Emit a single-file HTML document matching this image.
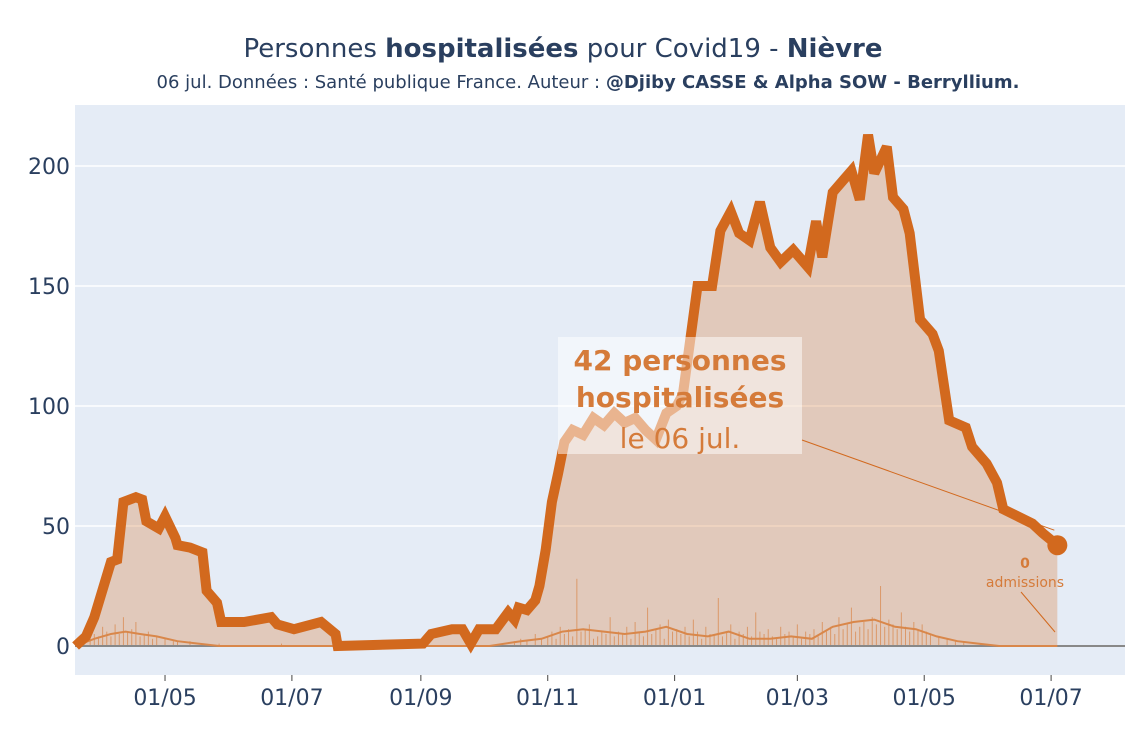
<!DOCTYPE html>
<html><head><meta charset="utf-8"><style>
body{margin:0;background:#fff;font-family:"Liberation Sans",sans-serif}
svg text{font-family:"DejaVu Sans","Liberation Sans",sans-serif}
</style></head><body>
<svg id="c" width="1125" height="750" xmlns="http://www.w3.org/2000/svg">
<text x="563" y="57" text-anchor="middle" font-size="26" fill="#2a3f5f">Personnes <tspan font-weight="bold">hospitalisées</tspan> pour Covid19 - <tspan font-weight="bold">Nièvre</tspan></text>
<text x="588" y="88" text-anchor="middle" font-size="18" fill="#2a3f5f">06 jul. Données : Santé publique France. Auteur : <tspan font-weight="bold">@Djiby CASSE &amp; Alpha SOW - Berryllium.</tspan></text>
<rect x="75" y="105" width="1050" height="570" fill="#e5ecf6"/>
<g id="grid"></g><g id="marks"></g><g id="axes"></g>
</svg>
<script>
const startDate="2020-03-18";
const hospDays=[1,6,10,18,21,24,30,33,35,41,44,49,50,56,62,64,69,71,82,95,98,106,119,126,127,168,172,182,187,191,195,203,209,212,214,218,222,224,227,230,233,236,240,245,250,255,260,265,270,275,280,285,290,293,300,307,311,316,320,325,330,335,340,346,353,357,360,365,370,374,378,382,385,391,394,399,402,407,413,416,421,429,432,439,444,447,454,461,466,473];
const hospVals=[0,4,12,35,36,60,62,61,52,49,54,45,42,41,39,23,18,10,10,12,9,7,10,5,0,1,5,7,7,1,7,7,14,11,16,15,19,25,40,60,72,85,90,88,95,92,97,93,95,90,86,97,100,105,150,150,173,181,172,169,185,166,160,165,158,177,162,189,194,198,186,213,197,208,187,182,172,136,130,123,94,91,83,76,68,57,54,51,47,42];
const admDays=[1,10,18,25,32,40,50,60,70,200,215,225,235,245,255,265,275,285,295,305,315,325,335,345,355,365,375,385,395,405,415,425,435,445,473];
const admVals=[0,3,5,6,5,4,2,1,0,0,2,3,6,7,6,5,6,8,5,4,6,3,3,4,3,8,10,11,8,7,4,2,1,0,0];
const barDays=[8,10,12,14,16,18,20,22,24,26,28,30,32,34,36,38,40,44,48,50,56,62,70,100,130,212,215,218,222,225,228,230,232,234,236,238,240,242,244,246,248,250,252,254,256,258,260,262,264,266,268,270,272,274,276,278,280,282,284,286,288,290,292,294,296,298,300,302,304,306,308,310,312,314,316,318,320,322,324,326,328,330,332,334,336,338,340,342,344,346,348,350,352,354,356,358,360,362,364,366,368,370,372,374,376,378,380,382,384,386,388,390,392,394,396,398,400,402,404,406,408,410,412,416,420,424,428,436];
const barVals=[3,5,4,8,6,4,9,5,12,6,7,10,4,5,6,3,4,3,2,2,2,1,1,1,1,2,3,2,5,3,4,6,3,8,5,7,4,28,6,7,9,3,4,6,5,12,4,6,5,8,3,10,6,4,16,5,7,9,3,11,6,7,5,8,4,11,6,3,8,5,5,20,4,6,9,3,6,5,8,4,14,6,5,7,4,3,8,5,6,4,9,3,6,5,7,4,10,6,8,5,12,7,9,16,6,8,10,7,12,9,25,8,11,9,7,14,8,6,10,7,9,6,5,4,3,2,2,1];
const yTicks=[0,50,100,150,200];
const xTickDates=["2020-05-01","2020-07-01","2020-09-01","2020-11-01","2021-01-01","2021-03-01","2021-05-01","2021-07-01"];
const xTickLabels=["01/05","01/07","01/09","01/11","01/01","01/03","01/05","01/07"];
const NS="http://www.w3.org/2000/svg";
const t0=Date.parse(startDate);
const dayOf=s=>(Date.parse(s)-t0)/864e5;
const X=d=>73.5+d*2.08, Y=v=>646-v*2.4;
function mk(tag,attrs,parent){const e=document.createElementNS(NS,tag);for(const k in attrs)e.setAttribute(k,attrs[k]);parent.appendChild(e);return e;}
const grid=document.getElementById('grid'),marks=document.getElementById('marks'),axes=document.getElementById('axes');
yTicks.forEach(v=>{
 if(v>0){const g=mk('line',{x1:75,x2:1125,y1:Y(v),y2:Y(v),stroke:'#fff','stroke-width':1.5},grid);
 
 }
 const t=mk('text',{x:70,y:Y(v)+8,'text-anchor':'end','font-size':22,fill:'#2a3f5f'},axes);t.textContent=v;
 
 
});
xTickDates.forEach((s,i)=>{
 const x=X(dayOf(s));
 const tk=mk('line',{x1:x,x2:x,y1:675,y2:681,stroke:'#444','stroke-width':1},axes);
 
 
 const t=mk('text',{x:x,y:705,'text-anchor':'middle','font-size':22,fill:'#2a3f5f'},axes);t.textContent=xTickLabels[i];
 
 
});
let pts=hospDays.map((d,i)=>X(d)+','+Y(hospVals[i]));
const area=mk('polygon',{points:X(hospDays[0])+','+Y(0)+' '+pts.join(' ')+' '+X(hospDays[hospDays.length-1])+','+Y(0),fill:'rgba(215,120,50,0.3)'},marks);


barDays.forEach((d,i)=>{
 const b=mk('line',{x1:X(d),x2:X(d),y1:Y(0),y2:Y(barVals[i]),stroke:'rgba(215,120,50,0.6)','stroke-width':1},marks);
 
 
});
const zl=mk('line',{x1:75,x2:1125,y1:Y(0),y2:Y(0),stroke:'#888','stroke-width':2},marks);


const al=mk('polyline',{points:admDays.map((d,i)=>X(d)+','+Y(admVals[i])).join(' '),fill:'none',stroke:'#d9874a','stroke-width':2},marks);


const hl=mk('polyline',{points:pts.join(' '),fill:'none',stroke:'#d2691e','stroke-width':10,'stroke-linejoin':'miter','stroke-miterlimit':3},marks);


const ld=hospDays[hospDays.length-1],lv=hospVals[hospVals.length-1];
const dot=mk('circle',{cx:X(ld),cy:Y(lv),r:10,fill:'#d2691e'},marks);


const box=mk('rect',{x:558,y:337,width:244,height:117,fill:'rgba(255,255,255,0.5)'},marks);


const ar=mk('line',{x1:802,y1:440,x2:X(ld)-3,y2:Y(lv)-15,stroke:'#d2691e','stroke-width':1},marks);


[["42 personnes",370,'bold'],["hospitalisées",407,'bold'],["le 06 jul.",448,'normal']].forEach(a=>{
 const t=mk('text',{x:680,y:a[1],'text-anchor':'middle','font-size':28,'font-weight':a[2],fill:'#d57b3a'},marks);t.textContent=a[0];
 
 
});
const a2=mk('line',{x1:1021,y1:592,x2:1055,y2:632,stroke:'#d2691e','stroke-width':1},marks);


[["0",568,'bold'],["admissions",587,'normal']].forEach(a=>{
 const t=mk('text',{x:1025,y:a[1],'text-anchor':'middle','font-size':14,'font-weight':a[2],fill:'#d57b3a'},marks);t.textContent=a[0];
 
 
});
</script>
</body></html>
